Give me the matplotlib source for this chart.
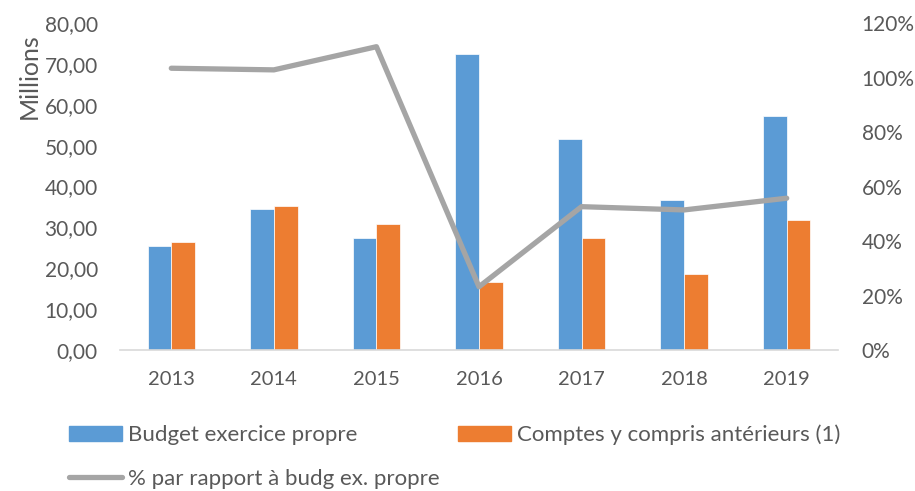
import matplotlib
matplotlib.use("Agg")
import matplotlib.pyplot as plt
import numpy as np
from matplotlib.ticker import FuncFormatter, MultipleLocator
from matplotlib.patches import Patch
from matplotlib.lines import Line2D

years = ["2013", "2014", "2015", "2016", "2017", "2018", "2019"]
budget = [25.5, 34.4, 27.5, 72.5, 51.5, 36.7, 57.3]
comptes = [26.4, 35.2, 30.9, 16.7, 27.5, 18.6, 31.8]
pct = [103.4, 102.8, 111.3, 23.2, 52.6, 51.4, 55.7]

BLUE = "#5B9BD5"
ORANGE = "#ED7D31"
GREY = "#A5A5A5"
TXT = "#595959"

plt.rcParams['font.family'] = ['Lato', 'DejaVu Sans']

W, H = 915, 491
fig = plt.figure(figsize=(W/100, H/100), dpi=100)
ax = fig.add_axes([120/W, 1-350/H, (838-120)/W, (350-23)/H])
ax2 = ax.twinx()

x = np.arange(len(years))
w = 0.231
ax.bar(x - w/2, budget, w, color=BLUE, edgecolor="white", linewidth=0.5, zorder=2)
ax.bar(x + w/2, comptes, w, color=ORANGE, edgecolor="white", linewidth=0.5, zorder=2)
ax2.plot(x, pct, color=GREY, linewidth=3.8, solid_capstyle="round", zorder=3)

ax.set_xlim(-0.5, len(years) - 0.5)
ax.set_ylim(0, 80)
ax2.set_ylim(0, 120)
ax.yaxis.set_major_locator(MultipleLocator(10))
ax2.yaxis.set_major_locator(MultipleLocator(20))
ax.yaxis.set_major_formatter(FuncFormatter(lambda v, p: f"{v:.2f}".replace(".", ",")))
ax2.yaxis.set_major_formatter(FuncFormatter(lambda v, p: f"{int(round(v))}%"))
ax.set_xticks(x)
ax.set_xticklabels(years)

for a in (ax, ax2):
    for s in a.spines.values():
        s.set_visible(False)
    a.tick_params(length=0, colors=TXT)
ax.spines['bottom'].set_visible(True)
ax.spines['bottom'].set_color("#D9D9D9")
ax.spines['bottom'].set_linewidth(1.2)

ax.tick_params(axis='y', labelsize=15, pad=16)
ax2.tick_params(axis='y', labelsize=15, pad=17)
ax.tick_params(axis='x', labelsize=14.5, pad=15)
ax.set_ylabel("Millions", fontsize=18, color=TXT)
ax.yaxis.set_label_coords(-0.127, 0.838)
ax.yaxis.label.set_verticalalignment("center")

ax2.set_zorder(ax.get_zorder() + 1)
ax2.patch.set_visible(False)

items = [
    (Patch(color=BLUE, label="Budget exercice propre"), 69, 435),
    (Patch(color=ORANGE, label="Comptes y compris antérieurs (1)"), 458, 435),
    (Line2D([0], [0], color=GREY, lw=3.8, solid_capstyle="round",
            label="% par rapport à budg ex. propre"), 69, 479),
]
for h, px, py in items:
    leg = fig.legend(handles=[h], loc="center left",
                     bbox_to_anchor=(px/W, 1-py/H), frameon=False,
                     fontsize=16, handlelength=2.4, handleheight=0.68,
                     handletextpad=0.27, borderpad=0, borderaxespad=0)
    for t in leg.get_texts():
        t.set_color(TXT)

fig.savefig("out.png", dpi=100)
